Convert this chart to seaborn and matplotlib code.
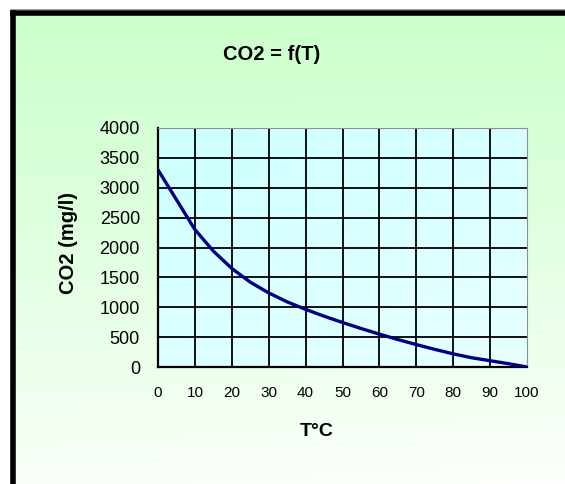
import numpy as np
import pandas as pd
import matplotlib
matplotlib.use("Agg")
import matplotlib.pyplot as plt
import seaborn as sns
from matplotlib.lines import Line2D

# ---- data ----
temperature = [0, 5, 10, 15, 20, 25, 30, 35, 40, 45, 50, 55, 60, 65, 70, 75, 80, 85, 90, 95, 100]
co2 = [3300, 2800, 2300, 1940, 1650, 1420, 1240, 1090, 965, 850, 745, 645, 550, 460, 375, 295, 220, 155, 105, 55, 0]
x_ticks = [0, 10, 20, 30, 40, 50, 60, 70, 80, 90, 100]
y_ticks = [0, 500, 1000, 1500, 2000, 2500, 3000, 3500, 4000]
title = "CO2 = f(T)"
x_label = "T°C"
y_label = "CO2 (mg/l)"

df = pd.DataFrame({"T": temperature, "CO2": co2})

sns.set_style("white")
plt.rcParams['font.family'] = ['Liberation Sans', 'DejaVu Sans']
plt.rcParams['text.color'] = 'black'
plt.rcParams['xtick.color'] = 'black'
plt.rcParams['ytick.color'] = 'black'

W, H = 565, 484
fig = plt.figure(figsize=(W / 100, H / 100), dpi=100, facecolor='white')

# chart-area gradient background
bg = fig.add_axes([13 / W, 0, 1 - 13 / W, 1 - 13 / H], zorder=-10)
v = np.linspace(0, 1, 300)[:, None]
h = np.linspace(0, 1, 300)[None, :]
t = np.clip(0.9 * v ** 1.1 + 0.08 * h * v, 0, 1)
top_c = np.array([0.80, 1.0, 0.80])
bot_c = np.array([0.995, 1.0, 0.99])
img = top_c * (1 - t[..., None]) + bot_c * t[..., None]
bg.imshow(img, aspect='auto', extent=[0, 1, 0, 1], origin='upper')
bg.set_axis_off()

# frame (top and left black border, thin gray above)
fig.add_artist(Line2D([13 / W, 1.02], [1 - 13 / H, 1 - 13 / H], color='black', lw=4,
                      transform=fig.transFigure, solid_capstyle='projecting'))
fig.add_artist(Line2D([13 / W, 13 / W], [-0.02, 1 - 13 / H], color='black', lw=4,
                      transform=fig.transFigure, solid_capstyle='projecting'))
fig.add_artist(Line2D([10 / W, 1.02], [1 - 9 / H, 1 - 9 / H], color='#a0a0a0', lw=0.8,
                      transform=fig.transFigure))

# plot axes
ax = fig.add_axes([158 / W, 1 - 367 / H, (527 - 158) / W, (367 - 128) / H])
pv = np.linspace(0, 1, 200)[:, None]
ph = np.linspace(0, 1, 200)[None, :]
pt = np.clip(0.6 * pv + 0.4 * ph, 0, 1)
p_top = np.array([0.80, 1.0, 1.0])
p_bot = np.array([0.91, 1.0, 1.0])
pimg = p_top * (1 - pt[..., None]) + p_bot * pt[..., None]
ax.imshow(pimg, aspect='auto', extent=[0, 1, 0, 1], origin='upper',
          transform=ax.transAxes, zorder=0)

sns.lineplot(data=df, x="T", y="CO2", color='#000080', lw=2.4, ax=ax, zorder=5)

ax.set_xlim(0, 100)
ax.set_ylim(0, 4000)
ax.set_xticks(x_ticks)
ax.set_yticks(y_ticks)
ax.set_xlabel("")
ax.set_ylabel("")
ax.grid(True, color='black', lw=1.3)
ax.get_xgridlines()[-1].set_visible(False)
ax.get_ygridlines()[-1].set_visible(False)

for s in ['left', 'bottom']:
    ax.spines[s].set_color('black')
    ax.spines[s].set_linewidth(1.6)
for s in ['top', 'right']:
    ax.spines[s].set_color('#909090')
    ax.spines[s].set_linewidth(0.8)

ax.tick_params(axis='both', direction='out', length=4, width=1.5, color='black',
               labelcolor='black')
ax.tick_params(axis='x', labelsize=11, pad=10)
ax.tick_params(axis='y', labelsize=13, pad=9)

fig.text(272 / W, 1 - 55 / H, title, ha='center', va='center', fontsize=14.5,
         fontweight='bold', color='black')
fig.text(317 / W, 1 - 432 / H, x_label, ha='center', va='center', fontsize=14,
         fontweight='bold', color='black')
fig.text(69 / W, 1 - 243 / H, y_label, ha='center', va='center', fontsize=14.5,
         fontweight='bold', rotation=90, color='black')

fig.savefig("out.png", dpi=100, facecolor=fig.get_facecolor())
